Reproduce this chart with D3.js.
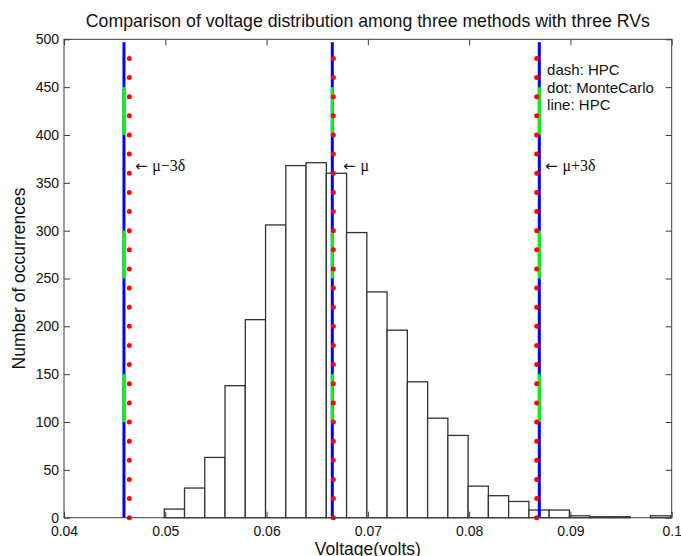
<!DOCTYPE html>
<html>
<head>
<meta charset="utf-8">
<script src="https://cdn.jsdelivr.net/npm/d3@7"></script>
<style>
  body { margin: 0; background: #fff; }
  svg { display: block; font-family: 'Liberation Sans', Arial, sans-serif; }
</style>
</head>
<body>
<svg id="chart"></svg>
<script>
/* global d3 */

// Histogram bins (left/right edges, volts) and the counts
const binEdges = [
  0.0499, 0.0519, 0.0539, 0.0559, 0.0579, 0.0599, 0.0619, 0.0639, 0.0659,
  0.0679, 0.0699, 0.0719, 0.0739, 0.0759, 0.0779, 0.0799, 0.0819, 0.0839,
  0.0859, 0.0879, 0.0899, 0.0919, 0.0939, 0.0959, 0.0979, 0.0999
]
const counts = [
  9, 31, 63, 138, 207, 306, 368, 371, 360, 298, 236, 196, 142,
  104, 86, 33, 23, 17, 8, 8, 2, 1, 1, 0, 2
]

// mu - 3 delta, mu, mu + 3 delta for each method
const hpcLine = [0.04592, 0.06649, 0.08693]
const hpcDash = [0.04592, 0.06649, 0.08693]
const monteCarloDot = [0.04645, 0.06659, 0.08667]
const markerLabels = ['\u03bc\u22123\u03b4', '\u03bc', '\u03bc+3\u03b4']
const labelX = [0.04700, 0.06755, 0.08750]
const labelCount = 368

// green dash pieces along each marker line (in counts) and the line height
const dashSegments = [[100, 150], [250, 300], [400, 450]]
const lineTop = 497
const dotStep = 20

const legendLines = ['dash: HPC', 'dot: MonteCarlo', 'line: HPC']

const xTicks = [0.04, 0.05, 0.06, 0.07, 0.08, 0.09, 0.1]
const yTicks = [0, 50, 100, 150, 200, 250, 300, 350, 400, 450, 500]

const svgWidth = 681
const svgHeight = 556
const margin = { top: 39.3, right: 9.3, bottom: 38.3, left: 64 }
const width = svgWidth - margin.left - margin.right
const height = svgHeight - margin.top - margin.bottom

const axisColor = '#3c3c3c'

const svg = d3.select('#chart')
  .attr('width', svgWidth)
  .attr('height', svgHeight)

const x = d3.scaleLinear().domain([0.04, 0.1]).range([0, width])
const y = d3.scaleLinear().domain([0, 500]).range([height, 0])

const g = svg.append('g')
  .attr('transform', `translate(${margin.left},${margin.top})`)

// bars
g.append('g')
  .selectAll('rect')
  .data(counts.map((c, i) => ({ x0: binEdges[i], x1: binEdges[i + 1], c })))
  .enter()
  .append('rect')
  .attr('x', d => x(d.x0))
  .attr('y', d => y(d.c))
  .attr('width', d => x(d.x1) - x(d.x0))
  .attr('height', d => y(0) - y(d.c))
  .attr('fill', '#fff')
  .attr('stroke', '#333')
  .attr('stroke-width', 1.3)

// solid HPC lines
g.append('g')
  .selectAll('line')
  .data(hpcLine)
  .enter()
  .append('line')
  .attr('x1', d => x(d)).attr('x2', d => x(d))
  .attr('y1', y(0)).attr('y2', y(lineTop))
  .attr('stroke', '#0000ff')
  .attr('stroke-width', 3)

// dashed HPC pieces (green)
const dashes = []
hpcDash.forEach(v => dashSegments.forEach(s => dashes.push({ v, a: s[0], b: s[1] })))
g.append('g')
  .selectAll('line')
  .data(dashes)
  .enter()
  .append('line')
  .attr('x1', d => x(d.v)).attr('x2', d => x(d.v))
  .attr('y1', d => y(d.a)).attr('y2', d => y(d.b))
  .attr('stroke', '#00ff00')
  .attr('stroke-width', 3)

// dotted Monte Carlo lines
g.append('g')
  .selectAll('line')
  .data(monteCarloDot)
  .enter()
  .append('line')
  .attr('x1', d => x(d)).attr('x2', d => x(d))
  .attr('y1', y(0)).attr('y2', y(lineTop))
  .attr('stroke', '#ff0000')
  .attr('stroke-width', 5)
  .attr('stroke-linecap', 'round')
  .attr('stroke-dasharray', `0 ${y(0) - y(dotStep)}`)

// arrow labels
const labels = g.append('g')
  .selectAll('text')
  .data(markerLabels)
  .enter()
  .append('text')
  .attr('x', (d, i) => x(labelX[i]))
  .attr('y', y(labelCount))
  .attr('dy', '0.35em')
  .attr('font-size', 15)
  .attr('fill', '#111')
labels.append('tspan')
  .attr('font-family', "'DejaVu Sans', sans-serif")
  .attr('font-size', 15)
  .text('\u2190 ')
labels.append('tspan')
  .attr('font-family', "'Liberation Serif', serif")
  .attr('font-size', 16)
  .text(d => d)

// legend text
g.append('g')
  .selectAll('text')
  .data(legendLines)
  .enter()
  .append('text')
  .attr('x', x(0.0877))
  .attr('y', (d, i) => 36 + i * 17.5)
  .attr('font-size', 15)
  .attr('fill', '#111')
  .text(d => d)

// axes with inward ticks
const fmt = d => String(d)
const xAxis = g.append('g')
  .attr('transform', `translate(0,${height})`)
  .call(d3.axisBottom(x).tickValues(xTicks).tickFormat(fmt)
    .tickSizeInner(-6).tickSizeOuter(0).tickPadding(8))
const xTop = g.append('g')
  .call(d3.axisTop(x).tickValues(xTicks).tickFormat('')
    .tickSizeInner(-6).tickSizeOuter(0))
const yAxis = g.append('g')
  .call(d3.axisLeft(y).tickValues(yTicks).tickFormat(fmt)
    .tickSizeInner(-6).tickSizeOuter(0).tickPadding(5))
const yRight = g.append('g')
  .attr('transform', `translate(${width},0)`)
  .call(d3.axisRight(y).tickValues(yTicks).tickFormat('')
    .tickSizeInner(-6).tickSizeOuter(0))

;[xAxis, xTop, yAxis, yRight].forEach(a => {
  a.select('.domain').remove()
  a.selectAll('line').attr('stroke', axisColor)
  a.selectAll('text')
    .attr('font-size', 14)
    .attr('font-family', "'Liberation Sans', Arial, sans-serif")
    .attr('fill', '#111')
})

g.append('rect')
  .attr('width', width)
  .attr('height', height)
  .attr('fill', 'none')
  .attr('stroke', axisColor)
  .attr('stroke-width', 1)

// titles
svg.append('text')
  .attr('x', margin.left + width / 2)
  .attr('y', 26.5)
  .attr('text-anchor', 'middle')
  .attr('font-size', 17.7)
  .attr('fill', '#111')
  .text('Comparison of voltage distribution among three methods with three RVs')

svg.append('text')
  .attr('x', margin.left + width / 2)
  .attr('y', 555)
  .attr('text-anchor', 'middle')
  .attr('font-size', 17.5)
  .attr('fill', '#111')
  .text('Voltage(volts)')

svg.append('text')
  .attr('transform', `translate(25, ${margin.top + height / 2}) rotate(-90)`)
  .attr('text-anchor', 'middle')
  .attr('font-size', 17.5)
  .attr('fill', '#111')
  .text('Number of occurrences')
</script>
</body>
</html>
